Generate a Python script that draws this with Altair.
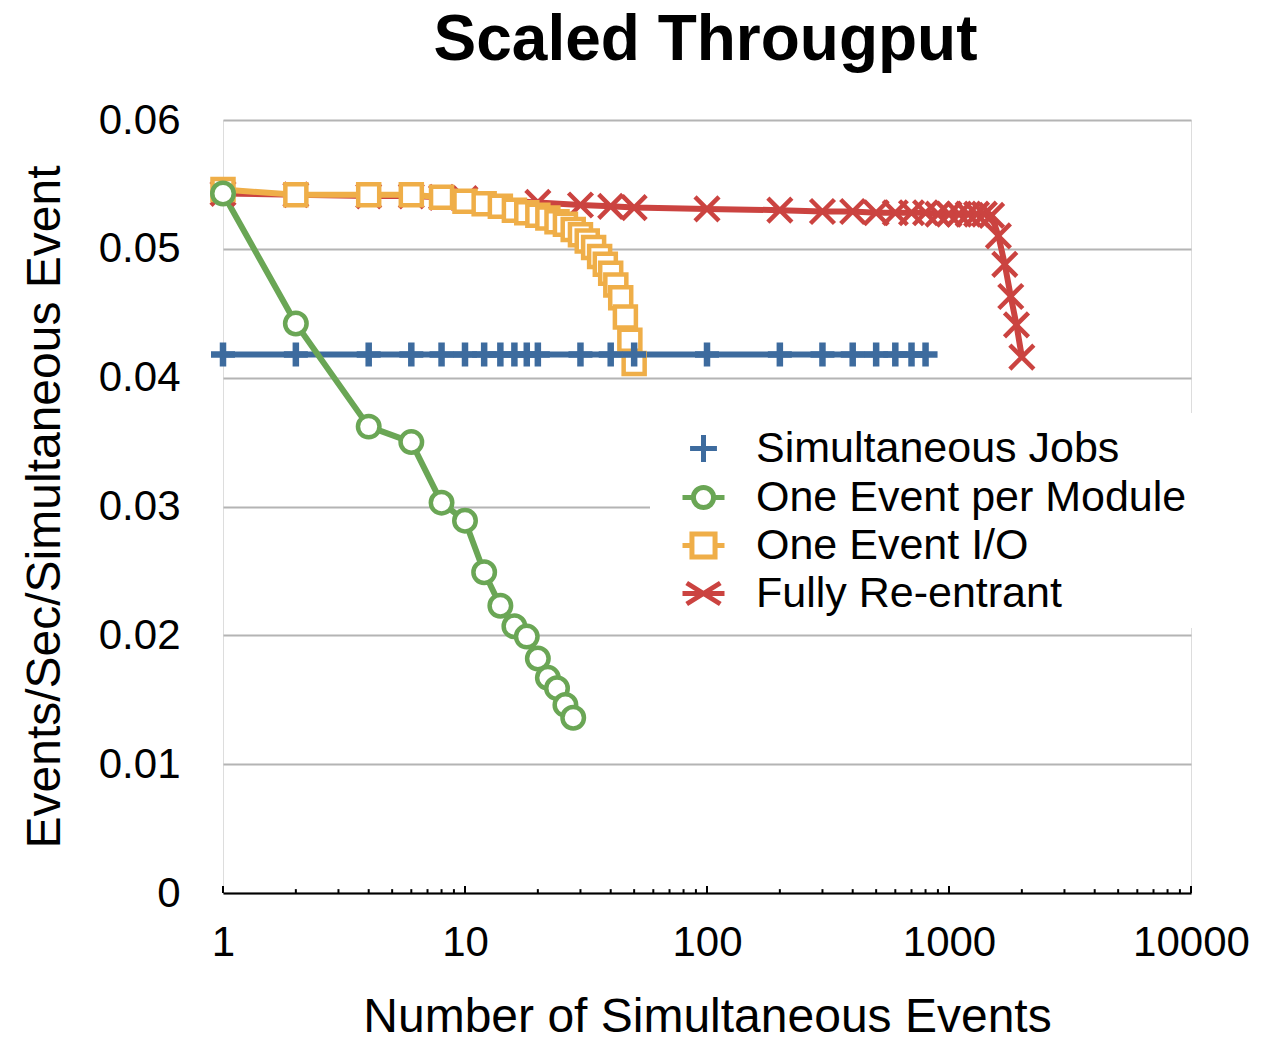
import altair as alt
import pandas as pd

# ---------------- data ----------------
chart_title = "Scaled Througput"
series_names = ["Simultaneous Jobs", "One Event per Module", "One Event I/O", "Fully Re-entrant"]
series_colors = ["#3d6b9e", "#6aa655", "#efae48", "#cb4340"]

jobs_x = [1, 2, 4, 6, 8, 10, 12, 14, 16, 18, 20, 30, 40, 50, 100, 200, 300, 400, 500, 600, 700, 800]
jobs_y = [0.0418, 0.0418, 0.0418, 0.0418, 0.0418, 0.0418, 0.0418, 0.0418, 0.0418, 0.0418, 0.0418,
          0.0418, 0.0418, 0.0418, 0.0418, 0.0418, 0.0418, 0.0418, 0.0418, 0.0418, 0.0418, 0.0418]

module_x = [1, 2, 4, 6, 8, 10, 12, 14, 16, 18, 20, 22, 24, 26, 28]
module_y = [0.0543, 0.0442, 0.0362, 0.0350, 0.0303, 0.0289, 0.0249, 0.0223, 0.0207, 0.0199,
            0.0182, 0.0167, 0.0159, 0.0146, 0.0136]

io_x = [1, 2, 4, 6, 8, 10, 12, 14, 16, 18, 20, 22, 24, 26, 28, 30, 32, 34, 36, 38, 40, 42, 44, 46, 48, 50]
io_y = [0.0546, 0.0542, 0.0542, 0.0542, 0.0540, 0.0537, 0.0535, 0.0533, 0.0530, 0.0528,
        0.0526, 0.0524, 0.0521, 0.0519, 0.0515, 0.0511, 0.0506, 0.0501, 0.0494, 0.0488,
        0.0481, 0.0472, 0.0462, 0.0447, 0.0429, 0.0411]

reentrant_x = [1, 2, 4, 6, 8, 10, 20, 30, 40, 50, 100, 200, 300, 400, 500, 600, 700, 800, 900, 1000,
               1100, 1200, 1300, 1400, 1500, 1600, 1700, 1800, 1900, 2000]
reentrant_y = [0.0543, 0.0542, 0.0541, 0.0541, 0.0540, 0.0539, 0.0536, 0.0534, 0.0533, 0.0532,
               0.0531, 0.0530, 0.0529, 0.0529, 0.0528, 0.0528, 0.0528, 0.0528, 0.0527, 0.0527,
               0.0527, 0.0527, 0.0527, 0.0527, 0.0526, 0.0510, 0.0488, 0.0463, 0.0441, 0.0416]

y_ticks = [0, 0.01, 0.02, 0.03, 0.04, 0.05, 0.06]
x_major = [1, 10, 100, 1000, 10000]
x_minor = [2, 3, 4, 5, 6, 7, 8, 9, 20, 30, 40, 50, 60, 70, 80, 90,
           200, 300, 400, 500, 600, 700, 800, 900, 2000, 3000, 4000, 5000, 6000, 7000, 8000, 9000]

# marker shapes / stroke widths / sizes (style)
shapes = ["M-1,0L1,0M0,-1L0,1", "circle", "square", "M-1,-1L1,1M-1,1L1,-1"]
legend_shapes = [
    "M-0.64,0L0.64,0M0,-0.64L0,0.64",
    "M-0.48,0A0.48,0.48 0 1,0 0.48,0A0.48,0.48 0 1,0 -0.48,0ZM-1,0L-0.48,0M0.48,0L1,0",
    "M-0.55,-0.55L0.55,-0.55L0.55,0.55L-0.55,0.55ZM-1,0L-0.55,0M0.55,0L1,0",
    "M-0.8,-0.5L0.8,0.5M-0.8,0.5L0.8,-0.5M-1,0L1,0",
]
marker_sw = {"Simultaneous Jobs": 6.5, "One Event per Module": 4.5, "One Event I/O": 4.5, "Fully Re-entrant": 4.5}
marker_size = {"Simultaneous Jobs": 576, "One Event per Module": 462, "One Event I/O": 441, "Fully Re-entrant": 576}

# ---------------- build table ----------------
draw_order = [("Fully Re-entrant", reentrant_x, reentrant_y),
              ("One Event I/O", io_x, io_y),
              ("Simultaneous Jobs", jobs_x, jobs_y),
              ("One Event per Module", module_x, module_y)]
rows = []
for name, xs, ys in draw_order:
    for x, y in zip(xs, ys):
        rows.append({"series": name, "x": x, "y": y, "sw": marker_sw[name], "sz": marker_size[name]})
df = pd.DataFrame(rows)

ticks_df = pd.DataFrame(
    [{"t": v, "y0": 0.0, "len": 0.00055} for v in x_major]
    + [{"t": v, "y0": 0.0, "len": 0.0003} for v in x_minor]
)
title_df = pd.DataFrame({"label": [chart_title]})

FONT = "Liberation Sans"
W, H = 968, 773

xscale = alt.Scale(type="log", domain=[1, 10000], nice=False)
yscale = alt.Scale(domain=[0, 0.06], nice=False, zero=True)
color_scale = alt.Scale(domain=series_names, range=series_colors)

legend = alt.Legend(
    title=None, orient="none", legendX=427, legendY=293,
    fillColor="white", padding=12, symbolOffset=18, labelOffset=29,
    labelFont=FONT, labelFontSize=43, labelColor="black", labelLimit=700,
    symbolSize=1764, symbolStrokeWidth=5, symbolFillColor="white",
    rowPadding=2,
)

x_enc = alt.X(
    "x:Q", scale=xscale,
    axis=alt.Axis(
        values=x_major, format="d", ticks=False, grid=False,
        labelFont=FONT, labelFontSize=42, labelColor="black", labelPadding=29,
        labelFlush=False, labelOverlap=False,
        domainColor="black", domainWidth=2,
        title="Number of Simultaneous Events", titleFont=FONT, titleFontSize=48,
        titleFontWeight="normal", titleColor="black", titlePadding=30,
    ),
)
y_enc = alt.Y(
    "y:Q", scale=yscale,
    axis=alt.Axis(
        values=y_ticks, labelExpr="datum.value == 0 ? '0' : format(datum.value, '.2f')",
        ticks=False, domain=False, grid=True, gridColor="#b4b4b4", gridWidth=2,
        labelFont=FONT, labelFontSize=42, labelColor="black", labelPadding=43,
        title="Events/Sec/Simultaneous Event", titleFont=FONT, titleFontSize=48,
        titleFontWeight="normal", titleColor="black", titlePadding=29,
    ),
)

base = alt.Chart(df)

lines = base.mark_line(strokeWidth=6, strokeJoin="round").encode(
    x=x_enc, y=y_enc,
    color=alt.Color("series:N", scale=color_scale, legend=None),
    detail="series:N",
)

points = base.mark_point(filled=False, fill="white", opacity=1).encode(
    x=alt.X("x:Q", scale=xscale),
    y=alt.Y("y:Q", scale=yscale),
    color=alt.Color("series:N", scale=color_scale, legend=None),
    shape=alt.Shape("series:N", scale=alt.Scale(domain=series_names, range=shapes), legend=None),
    strokeWidth=alt.StrokeWidth("sw:Q", scale=None, legend=None),
    size=alt.Size("sz:Q", scale=None, legend=None),
)

# legend-only layer (no rows drawn; legend entries come from the explicit scale domain)
legend_layer = base.transform_filter("false").mark_point(filled=False, opacity=1).encode(
    x=alt.X("x:Q", scale=xscale),
    y=alt.Y("y:Q", scale=yscale),
    color=alt.Color("series:N", scale=color_scale, sort=series_names, legend=legend),
    shape=alt.Shape("series:N", scale=alt.Scale(domain=series_names, range=legend_shapes),
                    sort=series_names, legend=legend),
)

tick_rules = alt.Chart(ticks_df).mark_rule(color="black", strokeWidth=2).encode(
    x=alt.X("t:Q", scale=xscale),
    y=alt.Y("y0:Q", scale=yscale),
    y2=alt.Y2("len:Q"),
)

title_text = alt.Chart(title_df).mark_text(
    font=FONT, fontSize=64, fontWeight="bold", color="black",
    align="center", baseline="alphabetic",
).encode(
    text="label:N",
    x=alt.value(W / 2 - 1.5),
    y=alt.value(-60),
)

chart = alt.layer(tick_rules, lines, points, legend_layer, title_text).resolve_scale(
    color="independent", shape="independent"
).properties(
    width=W, height=H,
    autosize=alt.AutoSizeParams(type="none"),
    padding={"left": 215, "top": 112, "right": 70, "bottom": 140},
).configure_view(stroke=None).configure(background="white")

chart.save("out.html", embed_options={"renderer": "svg", "actions": False})
